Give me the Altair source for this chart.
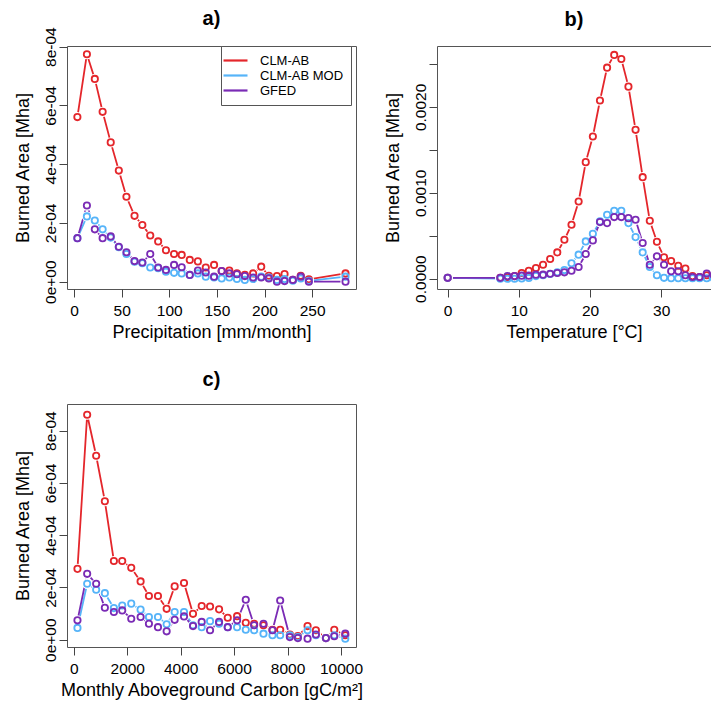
import altair as alt
import pandas as pd

FONT = "Liberation Sans"
SERIES = ["CLM-AB", "CLM-AB MOD", "GFED"]
COLORS = ["#E4262B", "#56B4F9", "#7A2BB5"]

# ---- panel a: precipitation ----
precip_x = [3.5, 13.5, 21.8, 30, 38.5, 47, 55, 63.5, 71.7, 80, 88.3, 96.5, 105, 113,
            121.5, 130, 138.3, 147, 155, 163, 171, 179.3, 188, 196.5, 204.5, 213, 221,
            229.7, 238, 246.5, 285]
precip_clm = [5.60e-4, 7.74e-4, 6.90e-4, 5.78e-4, 4.74e-4, 3.78e-4, 2.89e-4, 2.24e-4,
              1.93e-4, 1.57e-4, 1.37e-4, 1.07e-4, 0.94e-4, 0.91e-4, 0.74e-4, 0.69e-4,
              0.48e-4, 0.57e-4, 0.36e-4, 0.38e-4, 0.28e-4, 0.23e-4, 0.28e-4, 0.51e-4,
              0.20e-4, 0.19e-4, 0.26e-4, 0.06e-4, 0.20e-4, 0.08e-4, 0.28e-4]
precip_mod = [1.48e-4, 2.22e-4, 2.08e-4, 1.78e-4, 1.50e-4, 1.17e-4, 0.94e-4, 0.68e-4,
              0.63e-4, 0.48e-4, 0.46e-4, 0.34e-4, 0.30e-4, 0.28e-4, 0.23e-4, 0.28e-4,
              0.17e-4, 0.14e-4, 0.11e-4, 0.14e-4, 0.09e-4, 0.06e-4, 0.09e-4, 0.17e-4,
              0.14e-4, 0.06e-4, 0.09e-4, 0.03e-4, 0.11e-4, 0.03e-4, 0.17e-4]
precip_gfed = [1.48e-4, 2.59e-4, 1.78e-4, 1.48e-4, 1.54e-4, 1.19e-4, 1.00e-4, 0.70e-4,
               0.65e-4, 0.94e-4, 0.48e-4, 0.40e-4, 0.57e-4, 0.49e-4, 0.23e-4, 0.38e-4,
               0.31e-4, 0.17e-4, 0.36e-4, 0.28e-4, 0.25e-4, 0.19e-4, 0.14e-4, 0.14e-4,
               0.11e-4, 0.00e-4, 0.02e-4, 0.06e-4, 0.17e-4, 0.00e-4, 0.00e-4]

# ---- panel b: temperature ----
temp_x = [0, 7.4, 8.4, 9.4, 10.4, 11.4, 12.4, 13.4, 14.4, 15.4, 16.4, 17.4, 18.4, 19.4,
          20.4, 21.4, 22.4, 23.4, 24.4, 25.4, 26.4, 27.4, 28.4, 29.4, 30.4, 31.4, 32.4,
          33.4, 34.4, 35.4, 36.4, 37.4, 38.4]
temp_clm = [0.000010, 0.000010, 0.000016, 0.000030, 0.000066, 0.000093, 0.000124, 0.000163,
            0.000229, 0.000306, 0.000453, 0.000628, 0.000899, 0.001357, 0.001655, 0.002074,
            0.002457, 0.002605, 0.002558, 0.002236, 0.001733, 0.001182, 0.000674, 0.000430,
            0.000250, 0.000205, 0.000150, 0.000118, 0.000030, 0.000020, 0.000040, 0.000040,
            0.000030]
temp_mod = [0.000010, 0.000000, 0.000000, 0.000000, 0.000003, 0.000008, 0.000030, 0.000040,
            0.000054, 0.000074, 0.000100, 0.000180, 0.000280, 0.000434, 0.000523, 0.000667,
            0.000744, 0.000790, 0.000790, 0.000647, 0.000484, 0.000306, 0.000136, 0.000040,
            0.000010, 0.000005, 0.000005, 0.000005, 0.000005, 0.000005, 0.000005, 0.000005,
            0.000005]
temp_gfed = [0.000010, 0.000010, 0.000030, 0.000030, 0.000035, 0.000035, 0.000047, 0.000047,
             0.000058, 0.000066, 0.000074, 0.000093, 0.000136, 0.000287, 0.000446, 0.000659,
             0.000647, 0.000717, 0.000717, 0.000705, 0.000686, 0.000415, 0.000163, 0.000260,
             0.000163, 0.000086, 0.000086, 0.000040, 0.000020, 0.000020, 0.000060, 0.000040,
             0.000030]

# ---- panel c: aboveground carbon ----
carbon_x = [137, 500, 837, 1162, 1500, 1812, 2150, 2500, 2812, 3150, 3475, 3775, 4125,
            4462, 4787, 5100, 5437, 5762, 6112, 6437, 6750, 7100, 7437, 7725, 8087, 8387,
            8750, 9062, 9437, 9750, 10162]
carbon_clm = [2.71e-4, 8.61e-4, 7.04e-4, 5.30e-4, 3.01e-4, 3.01e-4, 2.75e-4, 2.23e-4,
              1.67e-4, 1.67e-4, 1.18e-4, 2.04e-4, 2.17e-4, 0.99e-4, 1.29e-4, 1.27e-4,
              1.16e-4, 0.84e-4, 0.90e-4, 0.65e-4, 0.61e-4, 0.55e-4, 0.38e-4, 0.38e-4,
              0.20e-4, 0.14e-4, 0.52e-4, 0.36e-4, 0.06e-4, 0.38e-4, 0.17e-4]
carbon_mod = [0.45e-4, 2.14e-4, 1.91e-4, 1.78e-4, 1.21e-4, 1.31e-4, 1.38e-4, 1.15e-4,
              0.87e-4, 0.87e-4, 0.59e-4, 1.06e-4, 1.06e-4, 0.55e-4, 0.48e-4, 0.71e-4,
              0.61e-4, 0.48e-4, 0.48e-4, 0.38e-4, 0.36e-4, 0.23e-4, 0.17e-4, 0.17e-4,
              0.17e-4, 0.10e-4, 0.36e-4, 0.17e-4, 0.06e-4, 0.17e-4, 0.04e-4]
carbon_gfed = [0.74e-4, 2.52e-4, 2.14e-4, 1.22e-4, 1.06e-4, 1.12e-4, 0.80e-4, 0.87e-4,
               0.61e-4, 0.48e-4, 0.32e-4, 0.76e-4, 0.89e-4, 0.52e-4, 0.68e-4, 0.36e-4,
               0.68e-4, 0.48e-4, 0.74e-4, 1.53e-4, 0.55e-4, 0.61e-4, 0.36e-4, 1.50e-4,
               0.10e-4, 0.06e-4, 0.04e-4, 0.20e-4, 0.06e-4, 0.13e-4, 0.23e-4]

# tick values
precip_ticks = [0, 50, 100, 150, 200, 250]
temp_ticks = [0, 10, 20, 30]
carbon_ticks = [0, 2000, 4000, 6000, 8000, 10000]
sci_ticks = [0, 2e-4, 4e-4, 6e-4, 8e-4]
temp_yticks = [0, 0.0005, 0.001, 0.0015, 0.002, 0.0025]


def long_df(xs, ys_list):
    rows = []
    for name, ys in zip(SERIES, ys_list):
        for xv, yv in zip(xs, ys):
            rows.append({"x": xv, "y": yv, "series": name})
    return pd.DataFrame(rows)


AX = dict(labelFont=FONT, labelFontSize=15.5, labelColor="black",
          titleFont=FONT, titleFontSize=18, titleFontWeight="normal", titleColor="black",
          tickSize=8, tickColor="#444", tickWidth=1, grid=False,
          labelFlush=False, labelOverlap=False, domainColor="#555", domainWidth=1)

SCI_EXPR = "datum.value == 0 ? '0e+00' : round(datum.value * 10000) + 'e-04'"
TEMP_EXPR = "round(datum.value * 10000) % 10 == 0 ? format(datum.value, '.4f') : ''"


def make_panel(df, title, xtitle, xdom, xvals, ydom, yvals, yexpr, w, h,
               title_offset, legend=False, open_right=False):
    cscale = alt.Scale(domain=SERIES, range=COLORS)
    xs = alt.Scale(domain=xdom, nice=False, zero=False)
    ys = alt.Scale(domain=ydom, nice=False, zero=False)
    X = alt.X("x:Q", scale=xs,
              axis=alt.Axis(values=xvals, title=xtitle, domain=open_right, format="d",
                            labelPadding=6, titlePadding=5, **AX))
    Y = alt.Y("y:Q", scale=ys,
              axis=alt.Axis(values=yvals, title="Burned Area [Mha]", labelExpr=yexpr,
                            labelAngle=270, labelAlign="center", labelBaseline="alphabetic",
                            labelPadding=4, titlePadding=11, domain=open_right, **AX))
    if legend:
        leg = alt.Legend(title=None, orient="none", legendX=w - 135, legendY=0,
                         symbolType="M-2,0L2,0", symbolSize=144, symbolStrokeWidth=2.2,
                         labelFont=FONT, labelFontSize=13, labelColor="black",
                         labelOffset=17, padding=7, rowPadding=0,
                         strokeColor="#555", fillColor="white")
    else:
        leg = None
    base = alt.Chart(df)
    lines = base.mark_line(strokeWidth=1.8, clip=True).encode(
        x=X, y=Y, color=alt.Color("series:N", scale=cscale, legend=leg))
    halo = base.mark_point(shape="circle", filled=True, color="white", size=105,
                           opacity=1, clip=True).encode(x=X, y=Y)
    pts = base.mark_point(shape="circle", filled=False, size=40, strokeWidth=1.8,
                          opacity=1, clip=True).encode(
        x=X, y=Y, stroke=alt.Stroke("series:N", scale=cscale, legend=None))
    ch = alt.layer(lines, halo, pts)
    if open_right:
        # top frame line (the right side of this panel is cut off in the original)
        Xt = alt.X("x:Q", scale=xs,
                   axis=alt.Axis(orient="top", labels=False, ticks=False, domain=True,
                                 title=None, grid=False, domainColor="#555", domainWidth=1))
        frame = base.mark_point(opacity=0, clip=True).encode(x=Xt, y=Y)
        ch = alt.layer(ch, frame).resolve_scale(x="independent")
    ch = ch.properties(
        width=w, height=h,
        title=alt.TitleParams(text=title, font=FONT, fontSize=20, fontWeight="bold",
                              color="black", anchor="middle", offset=title_offset))
    if open_right:
        ch = ch.properties(view=alt.ViewBackground(strokeOpacity=0))
    return ch


pa = make_panel(long_df(precip_x, [precip_clm, precip_mod, precip_gfed]), "a)",
                "Precipitation [mm/month]", [-7.4, 296], precip_ticks,
                [-0.000025, 0.000802], sci_ticks, SCI_EXPR, 289, 243, -2, legend=True)
pb = make_panel(long_df(temp_x, [temp_clm, temp_mod, temp_gfed]), "b)",
                "Temperature [°C]", [-1.5, 37.0], temp_ticks,
                [-0.000120, 0.002709], temp_yticks, TEMP_EXPR, 274, 243, 16, open_right=True)
pc = make_panel(long_df(carbon_x, [carbon_clm, carbon_mod, carbon_gfed]), "c)",
                "Monthly Aboveground Carbon [gC/m²]", [-255, 10563], carbon_ticks,
                [-0.000028, 0.000902], sci_ticks, SCI_EXPR, 289, 243, 14)

top = alt.hconcat(pa, pb, spacing=26)
chart = alt.vconcat(top, pc, spacing=27).resolve_scale(
    color="independent", stroke="independent").resolve_legend(
    color="independent").properties(
    padding={"left": 5, "top": 0, "right": 0, "bottom": 0},
    background="white").configure_view(stroke="#555", strokeWidth=1)

chart.save("out.html", embed_options={"renderer": "svg", "actions": False})
